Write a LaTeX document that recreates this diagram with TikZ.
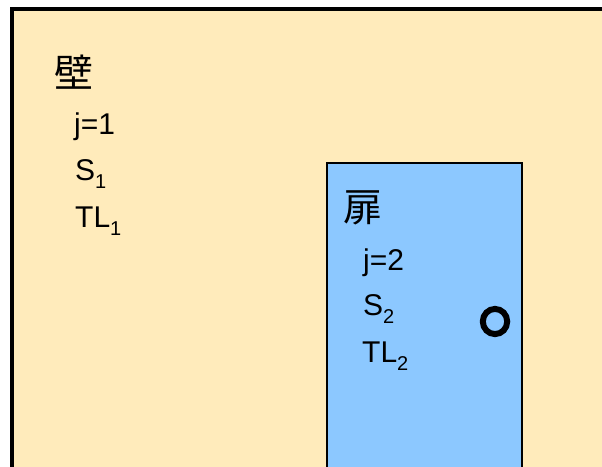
\documentclass[tikz,border=0pt]{standalone}
\usepackage{fontspec}
\setmainfont{Liberation Sans}
\newfontfamily\cjk{Noto Sans CJK JP}
\definecolor{wallfill}{RGB}{255,235,187}
\definecolor{doorfill}{RGB}{140,200,255}
\newcommand{\mysub}[1]{\raisebox{-8pt}{\fontsize{20}{20}\selectfont #1}}
\begin{document}
\begin{tikzpicture}[x=1pt,y=-1pt,
  lbl/.style={anchor=base west,inner sep=0pt,font=\fontsize{30}{30}\selectfont},
  title/.style={anchor=base west,inner sep=0pt,font=\cjk\fontsize{39}{39}\selectfont},
  wallbox/.style={draw=black,line width=4pt,fill=wallfill},
  doorbox/.style={draw=black,line width=2.5pt,fill=doorfill},
  knob/.style={draw=black,line width=6pt}]
\useasboundingbox (0,0) rectangle (602,466);
\clip (0,0) rectangle (602,466);
\fill[white] (0,0) rectangle (602,466);
\draw[wallbox] (12,9) rectangle (640,490);
\draw[doorbox] (327,163) rectangle (522,490);
\draw[knob] (495,321.5) ellipse [x radius=12.2, y radius=12.6];
\node[title] (wall) at (54,87) {壁};
\node[lbl] (j1) at (74,134) {j=1};
\node[lbl] (s1) at (75,180) {S\mysub{1}};
\node[lbl] (tl1) at (75,227) {TL\mysub{1}};
\node[title] (door) at (343,221) {扉};
\node[lbl] (j2) at (363,270) {j=2};
\node[lbl] (s2) at (363,315) {S\mysub{2}};
\node[lbl] (tl2) at (362,362) {TL\mysub{2}};
\end{tikzpicture}
\end{document}
